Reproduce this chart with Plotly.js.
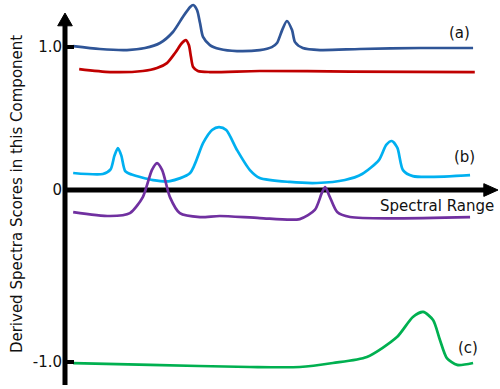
<!DOCTYPE html>
<html><head><meta charset="utf-8">
<script src="https://cdn.plot.ly/plotly-3.0.1.min.js"></script>
<style>html,body{margin:0;padding:0;background:#fff}#chart{width:500px;height:389px}</style>
</head><body><div id="chart"></div>
<script>
// Spectral range (arbitrary units) and derived scores
const aBlueX = [1.9, 8.1, 14.4, 18.6, 22.1, 25.1, 27.4, 29.1, 29.8, 30.7, 31.4, 32.1, 33.7, 36.0, 40.0, 45.3, 48.1, 49.3, 50.5, 51.6, 52.8, 53.5, 55.3, 59.3, 68.6, 82.6, 94.9];
const aBlueY = [0.837, 0.820, 0.814, 0.826, 0.855, 0.919, 1.006, 1.064, 1.076, 1.047, 0.971, 0.890, 0.843, 0.820, 0.808, 0.814, 0.831, 0.855, 0.930, 0.983, 0.930, 0.860, 0.826, 0.814, 0.820, 0.826, 0.826];

const aRedX = [3.3, 10.5, 18.1, 21.4, 23.7, 25.6, 27.2, 28.1, 28.8, 29.3, 29.8, 30.9, 33.7, 45.3, 66.3, 95.3];
const aRedY = [0.703, 0.686, 0.692, 0.709, 0.738, 0.797, 0.855, 0.872, 0.843, 0.773, 0.715, 0.692, 0.686, 0.692, 0.689, 0.686];

const bCyanX = [1.9, 8.8, 10.6, 11.5, 12.3, 13.1, 14.0, 15.5, 20.5, 24.4, 29.1, 32.1, 34.2, 35.8, 37.5, 40.0, 43.0, 45.3, 52.3, 58.6, 65.1, 69.1, 73.0, 74.7, 76.0, 77.3, 78.6, 80.9, 94.2];
const bCyanY = [0.099, 0.093, 0.120, 0.200, 0.244, 0.200, 0.110, 0.090, 0.058, 0.052, 0.099, 0.273, 0.349, 0.366, 0.349, 0.233, 0.116, 0.070, 0.047, 0.041, 0.058, 0.093, 0.174, 0.262, 0.285, 0.245, 0.116, 0.081, 0.087];

const bPurpleX = [1.9, 10.5, 15.1, 18.1, 20.2, 21.4, 22.6, 24.4, 26.7, 31.4, 36.0, 45.3, 54.6, 58.1, 59.8, 60.5, 61.6, 63.3, 66.3, 94.2];
const bPurpleY = [-0.128, -0.151, -0.134, -0.041, 0.116, 0.157, 0.116, -0.041, -0.134, -0.157, -0.151, -0.163, -0.169, -0.116, -0.012, 0.017, -0.041, -0.128, -0.157, -0.157];

const cGreenX = [1.9, 19.8, 43.0, 54.6, 62.3, 70.2, 77.2, 80.9, 83.3, 85.6, 87.2, 88.8, 91.2, 94.9];
const cGreenY = [-1.006, -1.017, -1.029, -1.029, -1.006, -0.971, -0.855, -0.738, -0.709, -0.756, -0.872, -0.977, -1.017, -1.006];

const tickVals = [0.831, 0, -1.0];
const tickLabels = ['1.0', '0', '-1.0'];

const FONT = 'DejaVu Sans, Verdana, sans-serif';
function line(x, y, color) {
  return {x: x, y: y, type: 'scatter', mode: 'lines',
    line: {color: color, width: 2.7, shape: 'spline', smoothing: 0.7},
    hoverinfo: 'skip', showlegend: false};
}
const data = [
  line(aBlueX, aBlueY, '#2f5597'),
  line(aRedX, aRedY, '#c00000'),
  line(bCyanX, bCyanY, '#00b0f0'),
  line(bPurpleX, bPurpleY, '#7030a0'),
  line(cGreenX, cGreenY, '#00b050')
];

function label(text, x, y, angle) {
  return {text: text, xref: 'paper', yref: 'paper', x: x, y: y, xanchor: 'center', yanchor: 'middle',
    textangle: angle || 0, showarrow: false, font: {family: FONT, size: 15, color: '#111'}};
}

const layout = {
  width: 500, height: 389,
  margin: {l: 0, r: 0, t: 0, b: 0},
  paper_bgcolor: '#fff', plot_bgcolor: '#fff',
  xaxis: {range: [-15.116, 101.163], visible: false, fixedrange: true},
  yaxis: {range: [-1.157, 1.105], anchor: 'free', position: 0.13,
    showgrid: false, zeroline: false, showline: false,
    tickmode: 'array', tickvals: tickVals, ticktext: tickLabels,
    ticks: 'inside', ticklen: 8, tickwidth: 4, tickcolor: '#000',
    ticklabelstandoff: 3,
    tickfont: {family: FONT, size: 15, color: '#111'}},
  shapes: [
    {type: 'line', xref: 'x', yref: 'y', x0: 0, x1: 0, y0: -1.134, y1: 0.97, line: {color: '#000', width: 5}, layer: 'below'},
    {type: 'line', xref: 'x', yref: 'y', x0: -0.4, x1: 98.0, y0: 0, y1: 0, line: {color: '#000', width: 5}, layer: 'below'},
    {type: 'path', xref: 'x', yref: 'y', path: 'M -1.7,0.955 L 0,1.029 L 1.7,0.955 Z', fillcolor: '#000', line: {color: '#000', width: 1}},
    {type: 'path', xref: 'x', yref: 'y', path: 'M 97.4,0.037 L 100.7,0 L 97.4,-0.037 Z', fillcolor: '#000', line: {color: '#000', width: 1}}
  ],
  annotations: [
    label('Derived Spectra Scores in this Component', 0.034, 0.501, -90),
    label('Spectral Range', 0.874, 0.470),
    label('(a)', 0.918, 0.915),
    label('(b)', 0.928, 0.596),
    label('(c)', 0.936, 0.105)
  ]
};
Plotly.newPlot('chart', data, layout, {staticPlot: true, displayModeBar: false});
</script></body></html>
